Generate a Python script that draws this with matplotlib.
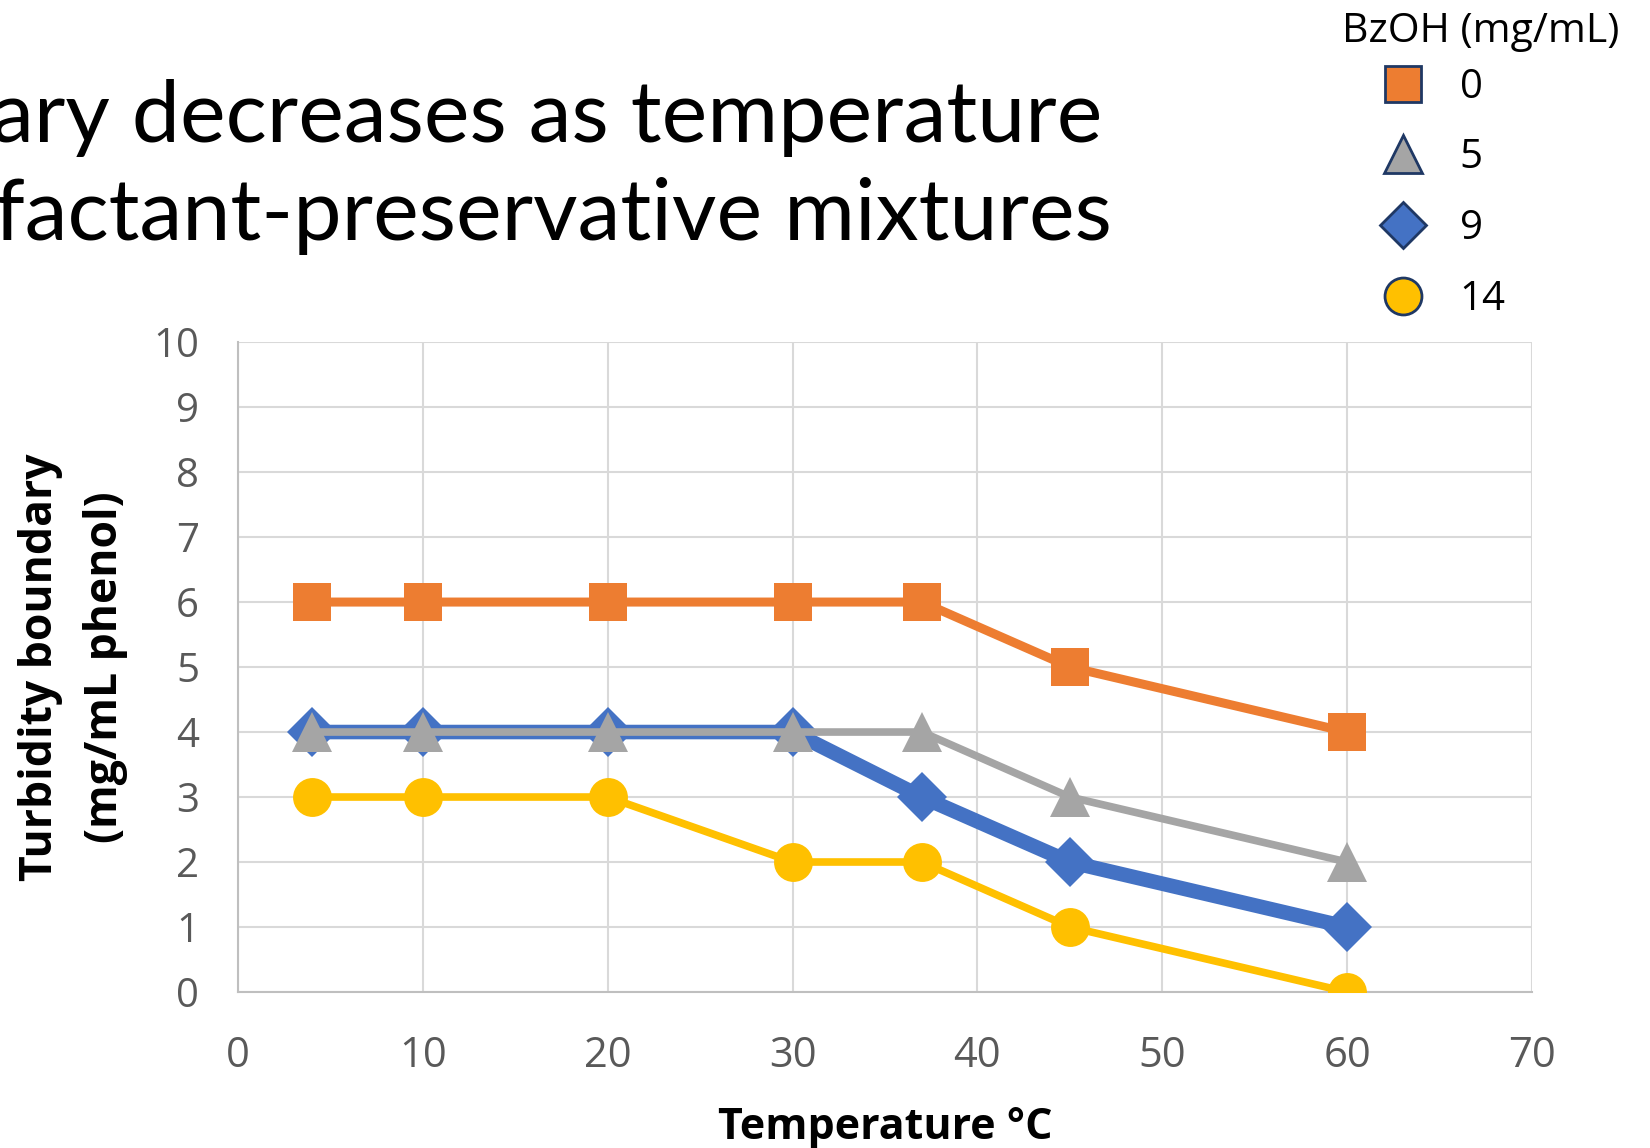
import matplotlib.pyplot as plt
from matplotlib.lines import Line2D

# turbidity boundary vs temperature for each BzOH level
temps = [4, 10, 20, 30, 37, 45, 60]
bzoh_levels = ['0', '5', '9', '14']
phenol_0 = [6, 6, 6, 6, 6, 5, 4]
phenol_5 = [4, 4, 4, 4, 4, 3, 2]
phenol_9 = [4, 4, 4, 4, 3, 2, 1]
phenol_14 = [3, 3, 3, 2, 2, 1, 0]

x_ticks = [0, 10, 20, 30, 40, 50, 60, 70]
y_ticks = list(range(0, 11))

plt.rcParams['font.family'] = ['Open Sans', 'DejaVu Sans']

fig = plt.figure(figsize=(16.5, 11.48), dpi=100)
ax = fig.add_axes([0.1442, 0.1359, 0.7843, 0.5661])

edge = '#1F3864'
# (values, colour, marker, markersize, linewidth, zorder)
series = [
    (phenol_0, '#ED7D31', 's', 28, 6.5, 3),
    (phenol_5, '#A5A5A5', '^', 29, 5.5, 5),
    (phenol_9, '#4472C4', 'D', 25, 10.5, 4),
    (phenol_14, '#FFC000', 'o', 28, 5.5, 6),
]
for vals, col, mk, ms, lw, z in series:
    ax.plot(temps, vals, color=col, lw=lw, marker=mk, ms=ms,
            mec=col, mew=0, zorder=z, solid_joinstyle='miter')

ax.set_xlim(0, 70)
ax.set_ylim(0, 10)
ax.set_xticks(x_ticks)
ax.set_yticks(y_ticks)
ax.grid(True, color='#D9D9D9', lw=1.5, zorder=0)
ax.set_axisbelow(True)
for s in ['top', 'right']:
    ax.spines[s].set_visible(False)
for s in ['left', 'bottom']:
    ax.spines[s].set_color('#BFBFBF')
    ax.spines[s].set_linewidth(1.5)
ax.tick_params(axis='both', length=0, colors='#595959')
ax.tick_params(axis='x', labelsize=30, pad=31)
ax.tick_params(axis='y', labelsize=29, pad=28)

ax.set_xlabel('Temperature °C', fontsize=31, fontweight='bold', labelpad=21)
ax.set_ylabel('Turbidity boundary\n(mg/mL phenol)', fontsize=32,
              fontweight='bold', labelpad=18, linespacing=1.6)

# slide heading, running off the left edge
fig.text(1102 / 1650, 1 - 142 / 1148, 'Turbidity boundary decreases as temperature',
         fontsize=62, ha='right', va='baseline', family=['Lato', 'DejaVu Sans'])
fig.text(1112 / 1650, 1 - 240 / 1148, 'in surfactant-preservative mixtures',
         fontsize=62, ha='right', va='baseline', family=['Lato', 'DejaVu Sans'])

# legend
fig.text(1481 / 1650, 1 - 32 / 1148, 'BzOH (mg/mL)', fontsize=29.5,
         ha='center', va='center')
handles = []
for vals, col, mk, ms, lw, z in series:
    handles.append(Line2D([], [], ls='none', marker=mk, ms=ms * 0.95,
                          mfc=col, mec=edge, mew=2))
fig.legend(handles, bzoh_levels, loc='upper left',
           bbox_to_anchor=(1357 / 1650, 1 - 47 / 1148), frameon=False,
           fontsize=29, labelspacing=0.75, handlelength=1.3,
           handletextpad=0.75, borderpad=0)

fig.savefig('out.png', dpi=100)
